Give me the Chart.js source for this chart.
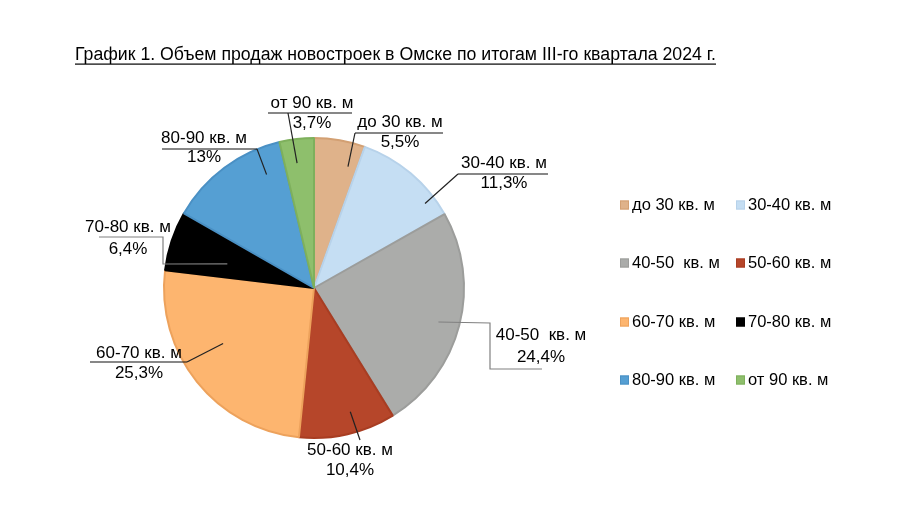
<!DOCTYPE html>
<html lang="ru">
  <head>
    <meta charset="UTF-8" />
    <title>Объем продаж новостроек в Омске</title>
    <script src="https://cdn.jsdelivr.net/npm/chart.js"></script>
    <style>
      body { margin: 0; background: #fff; }
      #wrap { width: 912px; height: 519px; }
    </style>
  </head>
  <body>
    <div id="wrap"><canvas id="salesChart" width="912" height="519"></canvas></div>

    <script>
      // data
      const categories = [
        "до 30 кв. м", "30-40 кв. м", "40-50  кв. м", "50-60 кв. м",
        "60-70 кв. м", "70-80 кв. м", "80-90 кв. м", "от 90 кв. м",
      ];
      const shares = [5.5, 11.3, 24.4, 10.4, 25.3, 6.4, 13, 3.7];
      const titleText =
        "График 1. Объем продаж новостроек в Омске по итогам III-го квартала 2024 г.";

      const fills = ["#dfb28a", "#c5def3", "#abacaa", "#b6462a", "#fdb56f", "#000000", "#559fd3", "#8ebf6c"];
      const edges = ["#d3a073", "#b7d2ea", "#9c9d9b", "#a83d22", "#eda25c", "#000000", "#4a90c4", "#7eb05c"];

      // label placement: text centre, leader anchor inside slice (t = part of slice angle, rf = part of radius)
      const labelLayout = [
        { x: 400, y1: 122, y2: 142, t: 0.79, rf: 0.84, path: [[355, 133]], under: [355, 443, 133] },
        { x: 504, y1: 163, y2: 183, t: 0.81, rf: 0.93, path: [[458, 174]], under: [458, 548, 174] },
        { x: 541, y1: 335, y2: 357, t: 0.51, rf: 0.86, path: [[490, 323], [490, 369], [542, 369]], gray: true },
        { x: 350, y1: 450, y2: 470, t: 0.41, rf: 0.86, path: [[360, 440]] },
        { x: 139, y1: 353, y2: 373, t: 0.58, rf: 0.71, path: [[187, 362]], under: [90, 187, 362] },
        { x: 128, y1: 227, y2: 249, t: 0.38, rf: 0.6, path: [[163, 264], [163, 237], [99, 237]], gray: true },
        { x: 204, y1: 138, y2: 157, t: 0.8, rf: 0.82, path: [[257, 149]], under: [162, 257, 149] },
        { x: 312, y1: 103, y2: 123, t: 0.42, rf: 0.84, path: [[288, 113]], under: [268, 352, 113] },
      ];

      const fmt = (v) => String(v).replace(".", ",") + "%";

      const decorations = {
        id: "decorations",
        afterDraw(chart) {
          const ctx = chart.ctx;
          ctx.save();

          // title, underlined
          ctx.font = "18px 'Liberation Sans', Arial, sans-serif";
          ctx.fillStyle = "#000";
          ctx.textBaseline = "middle";
          ctx.textAlign = "left";
          const tw = ctx.measureText(titleText).width;
          const sx = 641 / tw;
          ctx.save();
          ctx.translate(75, 55);
          ctx.scale(sx, 1);
          ctx.fillText(titleText, 0, 0);
          ctx.restore();
          ctx.fillRect(75, 63.5, 641, 1.2);

          // slice labels with leader lines
          const arcs = chart.getDatasetMeta(0).data;
          ctx.font = "17px 'Liberation Sans', Arial, sans-serif";
          arcs.forEach((arc, i) => {
            const L = labelLayout[i];
            const a = arc.startAngle + (arc.endAngle - arc.startAngle) * L.t;
            const r = arc.outerRadius * L.rf;
            const ax = arc.x + Math.cos(a) * r;
            const ay = arc.y + Math.sin(a) * r;
            ctx.strokeStyle = L.gray ? "#808080" : "#222";
            ctx.lineWidth = 1.2;
            ctx.beginPath();
            ctx.moveTo(ax, ay);
            L.path.forEach((p) => ctx.lineTo(p[0], p[1]));
            ctx.stroke();
            if (L.under) {
              ctx.strokeStyle = "#111";
              ctx.beginPath();
              ctx.moveTo(L.under[0], L.under[2]);
              ctx.lineTo(L.under[1], L.under[2]);
              ctx.stroke();
            }
            ctx.fillStyle = "#000";
            ctx.textAlign = "center";
            ctx.fillText(categories[i], L.x, L.y1);
            ctx.fillText(fmt(shares[i]), L.x, L.y2);
          });

          // legend, two columns
          const colX = [620, 736];
          const rowY = [205, 263, 322, 380];
          ctx.font = "16.5px 'Liberation Sans', Arial, sans-serif";
          ctx.textAlign = "left";
          categories.forEach((c, i) => {
            const bx = colX[i % 2];
            const by = rowY[Math.floor(i / 2)];
            ctx.fillStyle = fills[i];
            ctx.fillRect(bx, by - 4.5, 9, 9);
            ctx.strokeStyle = edges[i];
            ctx.lineWidth = 1;
            ctx.strokeRect(bx + 0.5, by - 4, 8, 8);
            ctx.fillStyle = "#000";
            ctx.fillText(c, bx + 12, by);
          });

          ctx.restore();
        },
      };

      new Chart(document.getElementById("salesChart"), {
        type: "pie",
        data: {
          labels: categories,
          datasets: [
            {
              data: shares,
              backgroundColor: fills,
              borderColor: edges,
              borderWidth: 2,
            },
          ],
        },
        options: {
          responsive: false,
          animation: false,
          layout: { padding: { left: 163, right: 447, top: 137, bottom: 80 } },
          plugins: {
            legend: { display: false },
            tooltip: { enabled: false },
          },
        },
        plugins: [decorations],
      });
    </script>
  </body>
</html>
